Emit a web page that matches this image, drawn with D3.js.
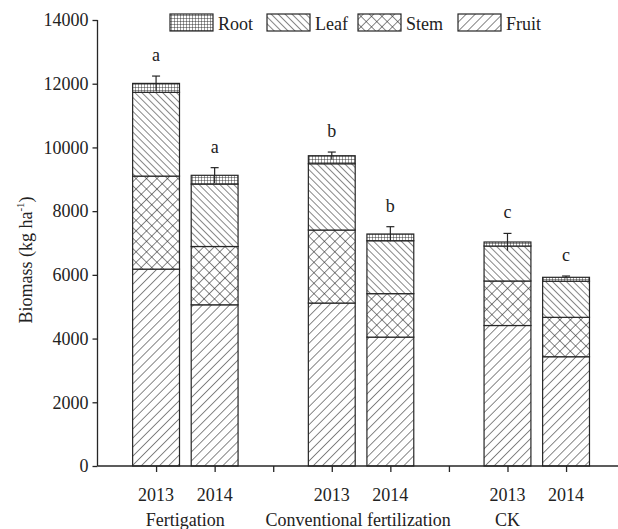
<!DOCTYPE html>
<html>
<head>
<meta charset="utf-8">
<script src="https://cdn.jsdelivr.net/npm/d3@7"></script>
<style>
  html, body { margin: 0; padding: 0; background: #fff; }
  svg { display: block; }
  text { font-family: "Liberation Serif", "Times New Roman", serif; fill: #222; }
</style>
</head>
<body>
<svg id="chart" width="618" height="529"></svg>
<script>
// Biomass of each organ, kg/ha, stacked bottom-up: fruit, stem, leaf, root
const years = ["2013", "2014", "2013", "2014", "2013", "2014"];
const groups = ["Fertigation", "Conventional fertilization", "CK"];
const fruit = [6180, 5060, 5115, 4045, 4410, 3430];
const stem  = [2920, 1830, 2292, 1365, 1397, 1237];
const leaf  = [2630, 1960, 2081, 1661, 1098, 1133];
const root  = [280, 275, 252, 211, 126, 123];
const errors = [230, 240, 115, 230, 270, 40];
const letters = ["a", "a", "b", "b", "c", "c"];
const yTicks = [0, 2000, 4000, 6000, 8000, 10000, 12000, 14000];
const legendOrder = ["Root", "Leaf", "Stem", "Fruit"];

const svg = d3.select("#chart");
const ink = "#262626";

// slot layout along the x axis: two bars per group, an empty slot between groups
const barSlots = [1, 2, 4, 5, 7, 8];
const tickSlots = [1, 2, 3, 4, 5, 6, 7, 8];
const groupSlots = [1.5, 4.45, 7.0];

const x = d3.scaleLinear().domain([0, 9]).range([97.5, 97.5 + 9 * 58.57]);
const y = d3.scaleLinear().domain([0, 14000]).range([466, 20]);
const barW = 0.8; // in slot units

// hatch patterns
const defs = svg.append("defs");
function lines(id, size, angle, cross) {
  const p = defs.append("pattern")
    .attr("id", id).attr("patternUnits", "userSpaceOnUse")
    .attr("width", size).attr("height", size)
    .attr("patternTransform", `rotate(${angle})`);
  p.append("rect").attr("width", size).attr("height", size).attr("fill", "#fff");
  p.append("line").attr("x1", 0).attr("y1", 0).attr("x2", 0).attr("y2", size)
    .attr("stroke", ink).attr("stroke-width", 1.1);
  if (cross) {
    p.append("line").attr("x1", 0).attr("y1", 0).attr("x2", size).attr("y2", 0)
      .attr("stroke", ink).attr("stroke-width", 1.1);
  }
}
lines("pat-Fruit", 6.4, 45, false);
lines("pat-Leaf", 4.9, -45, false);
lines("pat-Stem", 7.4, 45, true);
// root: fine square grid
(function () {
  const s = 3;
  const p = defs.append("pattern")
    .attr("id", "pat-Root").attr("patternUnits", "userSpaceOnUse")
    .attr("width", s).attr("height", s);
  p.append("rect").attr("width", s).attr("height", s).attr("fill", "#fff");
  p.append("path").attr("d", `M0,0V${s}M0,0H${s}`)
    .attr("stroke", ink).attr("stroke-width", 0.9).attr("fill", "none");
})();

// stacked data
const rows = years.map((yr, i) => ({
  i, Fruit: fruit[i], Stem: stem[i], Leaf: leaf[i], Root: root[i]
}));
const stackKeys = ["Fruit", "Stem", "Leaf", "Root"];
const series = d3.stack().keys(stackKeys)(rows);

const bars = svg.append("g");
series.forEach(s => {
  bars.selectAll(null).data(s).join("rect")
    .attr("x", d => x(barSlots[d.data.i] - barW / 2))
    .attr("width", x(barW) - x(0))
    .attr("y", d => y(d[1]))
    .attr("height", d => y(d[0]) - y(d[1]))
    .attr("fill", `url(#pat-${s.key})`)
    .attr("stroke", ink).attr("stroke-width", 1.2);
});

// error bars
const totals = rows.map(r => r.Fruit + r.Stem + r.Leaf + r.Root);
const eb = svg.append("g").attr("stroke", ink).attr("stroke-width", 1.2);
totals.forEach((t, i) => {
  const cx = x(barSlots[i]);
  eb.append("line").attr("x1", cx).attr("x2", cx)
    .attr("y1", y(t - errors[i])).attr("y2", y(t + errors[i]));
  eb.append("line").attr("x1", cx - 4).attr("x2", cx + 4)
    .attr("y1", y(t + errors[i])).attr("y2", y(t + errors[i]));
});

// significance letters
svg.append("g").selectAll("text").data(letters).join("text")
  .attr("x", (d, i) => x(barSlots[i]))
  .attr("y", (d, i) => y(totals[i] + errors[i]) - 15)
  .attr("text-anchor", "middle").attr("font-size", 18)
  .text(d => d);

// axes
const yAxis = svg.append("g").attr("transform", `translate(${x(0)},0)`)
  .call(d3.axisLeft(y).tickValues(yTicks).tickSize(5).tickPadding(4).tickFormat(d3.format("d")));
const xAxis = svg.append("g").attr("transform", `translate(0,${y(0)})`)
  .call(d3.axisBottom(x).tickValues(tickSlots).tickSize(6).tickFormat(() => ""));
[yAxis, xAxis].forEach(a => {
  a.select(".domain").attr("stroke", ink).attr("stroke-width", 1.3);
  a.selectAll(".tick line").attr("stroke", ink).attr("stroke-width", 1.3);
  a.selectAll("text").attr("font-size", 18).attr("fill", ink)
    .attr("font-family", '"Liberation Serif", serif');
});
xAxis.select(".domain").attr("d", `M${x(0)},0H618`);
yAxis.select(".domain").attr("d", `M0,${y(14000)}V${y(0)}`);

// year labels under bars
svg.append("g").selectAll("text").data(years).join("text")
  .attr("x", (d, i) => x(barSlots[i]))
  .attr("y", 501)
  .attr("text-anchor", "middle").attr("font-size", 18)
  .text(d => d);

// group labels
svg.append("g").selectAll("text").data(groups).join("text")
  .attr("x", (d, i) => x(groupSlots[i]))
  .attr("y", 526)
  .attr("text-anchor", "middle").attr("font-size", 18)
  .text(d => d);

// y-axis title
const yt = svg.append("text")
  .attr("transform", "translate(32,260) rotate(-90)")
  .attr("text-anchor", "middle").attr("font-size", 18);
yt.append("tspan").text("Biomass (kg ha");
yt.append("tspan").attr("font-size", 11).attr("dy", -8).text("-1");
yt.append("tspan").attr("dy", 8).text(")");

// legend
const legendX = [170, 267, 358, 458];
const lg = svg.append("g");
legendOrder.forEach((k, i) => {
  lg.append("rect").attr("x", legendX[i]).attr("y", 14).attr("width", 43).attr("height", 17)
    .attr("fill", `url(#pat-${k})`).attr("stroke", ink).attr("stroke-width", 1.2);
  lg.append("text").attr("x", legendX[i] + 48).attr("y", 29.5).attr("font-size", 18).text(k);
});
</script>
</body>
</html>
